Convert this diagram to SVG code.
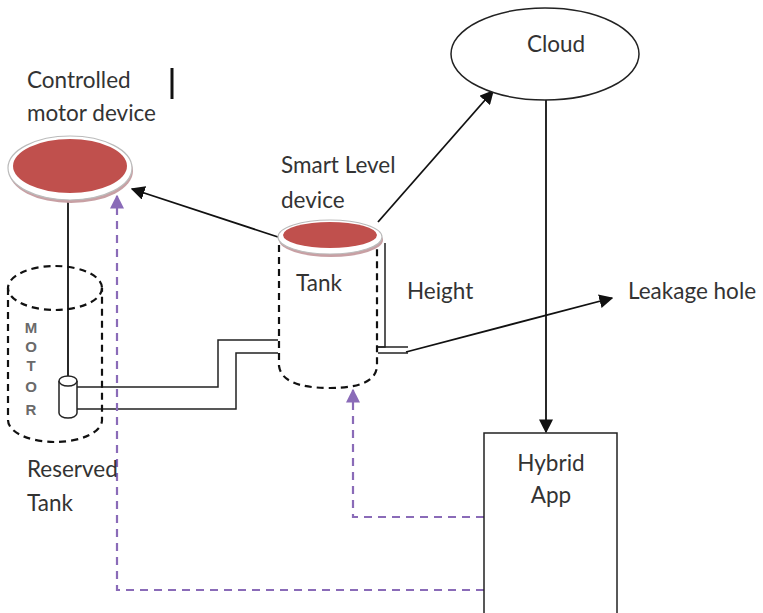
<svg xmlns="http://www.w3.org/2000/svg" width="763" height="613" viewBox="0 0 763 613">
  <style>
    .lbl { font-family: Lato, "Liberation Sans", sans-serif; font-size: 22.5px; fill: #333; }
    .motor { font-family: "Liberation Sans", sans-serif; font-size: 15px; font-weight: bold; fill: #6a6a6a; text-anchor: middle; }
    .line { fill: none; stroke: #111; stroke-width: 1.8; }
    .pipe { fill: none; stroke: #222; stroke-width: 1.5; }
    .dash { fill: none; stroke: #111; stroke-width: 2.2; stroke-dasharray: 7 5; }
    .ctrl { fill: none; stroke: #8a6bb8; stroke-width: 2.2; stroke-dasharray: 8 6; }
    .shape { fill: #fff; stroke: #222; stroke-width: 1.5; }
  </style>
  <defs>
    <marker id="arrBig" viewBox="0 0 10 10" refX="9" refY="5" markerWidth="14" markerHeight="14" orient="auto" markerUnits="userSpaceOnUse">
      <path d="M0,0 L10,5 L0,10 z" fill="#111"/>
    </marker>
    <marker id="arrP" viewBox="0 0 10 10" refX="9" refY="5" markerWidth="14" markerHeight="14" orient="auto" markerUnits="userSpaceOnUse">
      <path d="M0,0 L10,5 L0,10 z" fill="#8a6bb8"/>
    </marker>
  </defs>

  <!-- connectors -->
  <g id="connectors">
    <!-- motor shaft -->
    <line class="line" x1="68" y1="198" x2="68" y2="376" stroke-width="1.5"/>
    <!-- pipes motor to tank -->
    <polyline class="pipe" points="77,387 218,387 218,340 278,340"/>
    <polyline class="pipe" points="77,409 236,409 236,353 278,353"/>
    <!-- height gauge -->
    <polyline class="pipe" points="385,243 385,347 378,347"/>
    <line class="pipe" x1="378" y1="347" x2="408" y2="347"/>
    <line class="pipe" x1="378" y1="353" x2="408" y2="353"/>
    <line class="line" x1="406" y1="352" x2="612" y2="298" marker-end="url(#arrBig)"/>
    <!-- level device to motor device -->
    <line class="line" x1="278" y1="237" x2="132" y2="189" marker-end="url(#arrBig)"/>
    <!-- level device to cloud -->
    <line class="line" x1="378" y1="222" x2="493" y2="91" marker-end="url(#arrBig)"/>
    <!-- cloud to app -->
    <line class="line" x1="546" y1="100" x2="546" y2="432" marker-end="url(#arrBig)"/>
    <!-- control paths from app -->
    <polyline class="ctrl" points="484,517 353,517 353,390" marker-end="url(#arrP)"/>
    <polyline class="ctrl" points="484,590 117,590 117,196" marker-end="url(#arrP)"/>
  </g>

  <!-- controlled motor device -->
  <g id="motor-device">
    <text class="lbl" x="27" y="88">Controlled</text>
    <text class="lbl" x="27" y="121">motor device</text>
    <line x1="172" y1="68" x2="172" y2="99" stroke="#111" stroke-width="3"/>
    <ellipse cx="71" cy="171" rx="62" ry="32" fill="#c8a0a4"/>
    <ellipse cx="70" cy="168" rx="62" ry="32" fill="#fff" stroke="#bbb" stroke-width="1.2"/>
    <ellipse cx="70" cy="166" rx="57" ry="27" fill="#c0504d"/>
  </g>

  <!-- reserved tank -->
  <g id="reserved-tank">
    <path class="dash" d="M8,288 L8,420 A47,22 0 0 0 102,420 L102,288"/>
    <ellipse class="dash" cx="55" cy="288" rx="47" ry="22"/>
    <!-- vertical lettering -->
    <text class="motor" x="31" y="333">M</text>
    <text class="motor" x="31" y="352">O</text>
    <text class="motor" x="31" y="371">T</text>
    <text class="motor" x="31" y="392">O</text>
    <text class="motor" x="31" y="415">R</text>
    <text class="lbl" x="27" y="477">Reserved</text>
    <text class="lbl" x="27" y="511">Tank</text>
  </g>

  <!-- motor -->
  <g id="motor">
    <path class="shape" d="M59,381 L59,413 A9,5 0 0 0 77,413 L77,381"/>
    <ellipse class="shape" cx="68" cy="381" rx="9" ry="5"/>
  </g>

  <!-- tank with smart level device -->
  <g id="tank">
    <path class="dash" d="M279,245 L279,366 Q282,388 330,388 Q376,388 377,366 L377,245"/>
    <text class="lbl" x="296" y="291">Tank</text>
    <text class="lbl" x="281" y="173">Smart Level</text>
    <text class="lbl" x="281" y="208">device</text>
    <ellipse cx="331" cy="240" rx="52" ry="17" fill="#c8a0a4"/>
    <ellipse cx="330" cy="237" rx="52" ry="17" fill="#fff" stroke="#bbb" stroke-width="1.2"/>
    <ellipse cx="330" cy="235" rx="47" ry="13" fill="#c0504d"/>
    <text class="lbl" x="407" y="299">Height</text>
  </g>

  <!-- leakage -->
  <g id="leakage">
    <text class="lbl" x="628" y="299">Leakage hole</text>
  </g>

  <!-- cloud -->
  <g id="cloud">
    <ellipse class="shape" cx="545" cy="54" rx="94" ry="46"/>
    <text class="lbl" x="556" y="52" text-anchor="middle">Cloud</text>
  </g>

  <!-- hybrid app -->
  <g id="hybrid-app">
    <rect class="shape" x="484" y="433" width="133" height="190"/>
    <text class="lbl" x="551" y="471" text-anchor="middle">Hybrid</text>
    <text class="lbl" x="551" y="503" text-anchor="middle">App</text>
  </g>
</svg>
